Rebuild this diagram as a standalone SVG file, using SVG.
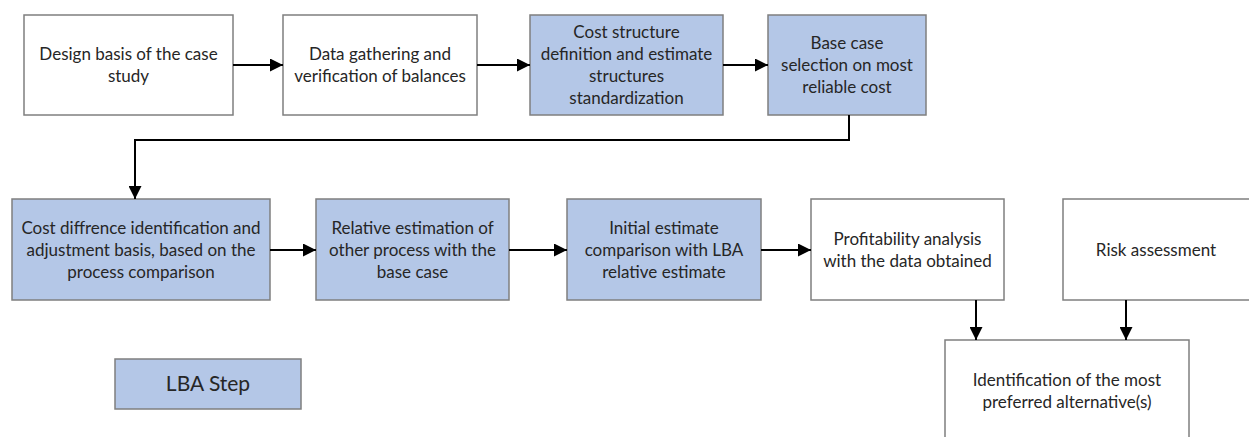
<svg xmlns="http://www.w3.org/2000/svg" width="1249" height="437" viewBox="0 0 1249 437">
  <defs>
    <marker id="arrow" markerUnits="userSpaceOnUse" markerWidth="13" markerHeight="13" refX="13" refY="6.5" orient="auto">
      <path d="M0,0 L13,6.5 L0,13 z" fill="#000"/>
    </marker>
    <style>
      .box { stroke: #7f7f7f; stroke-width: 1.5; }
      .plain { fill: #ffffff; }
      .lba { fill: #b4c7e7; }
      .lbl { font-family: Lato, "Liberation Sans", sans-serif; font-size: 17px; fill: #262626; text-anchor: middle; }
      .big { font-size: 21px; }
      .wire { fill: none; stroke: #000; stroke-width: 2; marker-end: url(#arrow); }
    </style>
  </defs>
  <rect width="1249" height="437" fill="#ffffff"/>

  <!-- first row -->
  <g id="design-basis">
    <rect class="box plain" x="24" y="15" width="209" height="100"/>
    <text class="lbl" x="128.5" y="60">Design basis of the case</text>
    <text class="lbl" x="128.5" y="82">study</text>
  </g>
  <g id="data-gathering">
    <rect class="box plain" x="283" y="15" width="194" height="100"/>
    <text class="lbl" x="380" y="60">Data gathering and</text>
    <text class="lbl" x="380" y="82">verification of balances</text>
  </g>
  <g id="cost-structure">
    <rect class="box lba" x="530" y="15" width="193" height="100"/>
    <text class="lbl" x="626.5" y="38">Cost structure</text>
    <text class="lbl" x="626.5" y="60">definition and estimate</text>
    <text class="lbl" x="626.5" y="82">structures</text>
    <text class="lbl" x="626.5" y="104">standardization</text>
  </g>
  <g id="base-case">
    <rect class="box lba" x="768" y="15" width="158" height="100"/>
    <text class="lbl" x="847" y="49">Base case</text>
    <text class="lbl" x="847" y="71">selection on most</text>
    <text class="lbl" x="847" y="93">reliable cost</text>
  </g>

  <!-- second row -->
  <g id="cost-difference">
    <rect class="box lba" x="12" y="199" width="258" height="101"/>
    <text class="lbl" x="141" y="234">Cost diffrence identification and</text>
    <text class="lbl" x="141" y="256">adjustment basis, based on the</text>
    <text class="lbl" x="141" y="278">process comparison</text>
  </g>
  <g id="relative-estimation">
    <rect class="box lba" x="316" y="199" width="193" height="101"/>
    <text class="lbl" x="412.5" y="234">Relative estimation of</text>
    <text class="lbl" x="412.5" y="256">other process with the</text>
    <text class="lbl" x="412.5" y="278">base case</text>
  </g>
  <g id="initial-estimate">
    <rect class="box lba" x="567" y="199" width="194" height="101"/>
    <text class="lbl" x="664" y="234">Initial estimate</text>
    <text class="lbl" x="664" y="256">comparison with LBA</text>
    <text class="lbl" x="664" y="278">relative estimate</text>
  </g>
  <g id="profitability">
    <rect class="box plain" x="811" y="199" width="193" height="101"/>
    <text class="lbl" x="907.5" y="245">Profitability analysis</text>
    <text class="lbl" x="907.5" y="267">with the data obtained</text>
  </g>
  <g id="risk">
    <rect class="box plain" x="1063" y="199" width="200" height="101"/>
    <text class="lbl" x="1156" y="256">Risk assessment</text>
  </g>

  <!-- outcome -->
  <g id="preferred-alternative">
    <rect class="box plain" x="945" y="340" width="244" height="110"/>
    <text class="lbl" x="1067" y="386">Identification of the most</text>
    <text class="lbl" x="1067" y="408">preferred alternative(s)</text>
  </g>

  <!-- legend -->
  <g id="legend-lba-step">
    <rect class="box lba" x="115" y="359" width="186" height="50"/>
    <text class="lbl big" x="208" y="391">LBA Step</text>
  </g>

  <g id="connectors">
    <path class="wire" d="M233,65 H283"/>
    <path class="wire" d="M477,65 H530"/>
    <path class="wire" d="M723,65 H768"/>
    <path class="wire" d="M849,115 V140 H135 V199"/>
    <path class="wire" d="M270,250 H316"/>
    <path class="wire" d="M509,250 H567"/>
    <path class="wire" d="M761,250 H811"/>
    <path class="wire" d="M976,300 V340"/>
    <path class="wire" d="M1126,300 V340"/>
  </g>
</svg>
